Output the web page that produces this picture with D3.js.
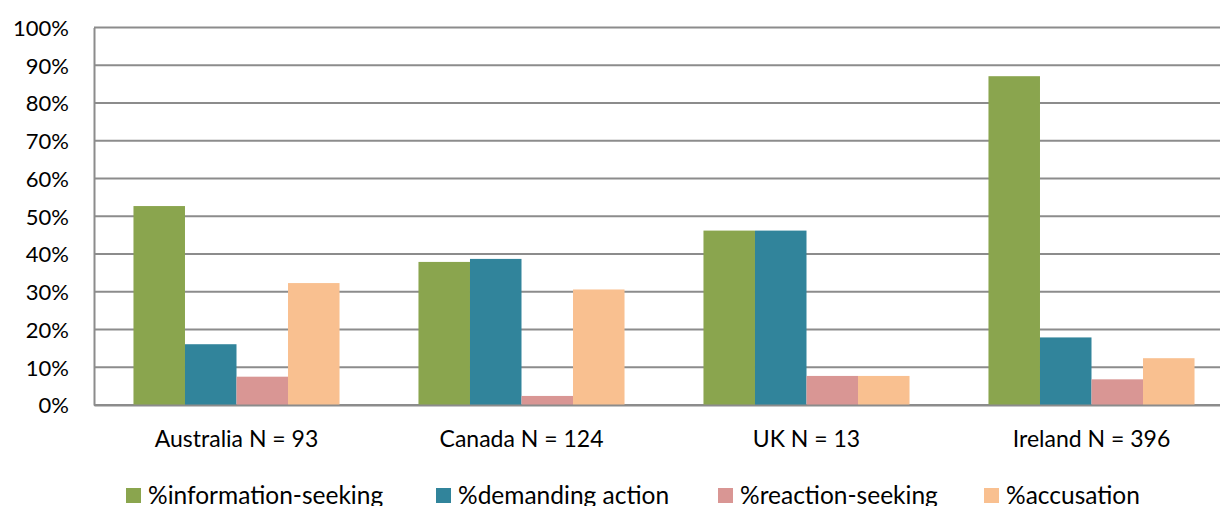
<!DOCTYPE html>
<html>
<head>
<meta charset="utf-8">
<script src="https://cdn.jsdelivr.net/npm/d3@7"></script>
<style>
  body { margin: 0; background: #fff; }
  text { font-family: Lato, "Open Sans", sans-serif; fill: #000; }
</style>
</head>
<body>
<script>
var width  = 1220;
var height = 506;

var categories = ['Australia N = 93', 'Canada N = 124', 'UK N = 13', 'Ireland N = 396'];
var seriesNames = ['%information-seeking', '%demanding action', '%reaction-seeking', '%accusation'];
var colors = ['#8aa54e', '#31849b', '#d99694', '#f9c090'];

var infoSeeking   = [52.7, 37.9, 46.2, 87.1];
var demanding     = [16.1, 38.7, 46.2, 17.9];
var reactionSeek  = [ 7.5,  2.4,  7.7,  6.8];
var accusation    = [32.3, 30.6,  7.7, 12.4];
var series = [infoSeeking, demanding, reactionSeek, accusation];

var yTicks = [0, 10, 20, 30, 40, 50, 60, 70, 80, 90, 100];

var plotLeft = 94, plotRight = 1234, plotTop = 27.5, plotBottom = 405;

var svg = d3.select('body')
            .append('svg')
            .attr('width', width)
            .attr('height', height);

var x = d3.scaleBand()
          .domain(categories)
          .range([plotLeft, plotRight])
          .paddingInner(0.277)
          .paddingOuter(0.1385);

var xs = d3.scaleBand()
           .domain(d3.range(seriesNames.length))
           .range([0, x.bandwidth()]);

var y = d3.scaleLinear()
          .domain([0, 100])
          .range([plotBottom, plotTop]);

// gridlines
svg.append('g')
   .selectAll('line')
   .data(yTicks)
   .enter()
   .append('line')
   .attr('x1', plotLeft)
   .attr('x2', plotRight)
   .attr('y1', function(d){ return y(d); })
   .attr('y2', function(d){ return y(d); })
   .attr('stroke', '#8c8c8c')
   .attr('stroke-width', 2);

// y axis
var yAxis = d3.axisLeft(y)
              .tickValues(yTicks)
              .tickSize(0)
              .tickPadding(25)
              .tickFormat(function(d){ return d + '%'; });

var gy = svg.append('g')
            .attr('transform', 'translate(' + plotLeft + ',0)')
            .call(yAxis);
gy.select('.domain').attr('stroke', '#8c8c8c').attr('stroke-width', 2);
gy.selectAll('text')
  .attr('font-size', '22px')
  .attr('dy', '0.36em')
  .attr('fill', '#000')
  .style('font-family', 'Lato, sans-serif');

// bars
var groups = svg.append('g')
                .selectAll('g')
                .data(categories)
                .enter()
                .append('g')
                .attr('transform', function(d){ return 'translate(' + x(d) + ',0)'; });

groups.selectAll('rect')
      .data(function(d, i){ return series.map(function(s, j){ return { s: j, v: s[i] }; }); })
      .enter()
      .append('rect')
      .attr('x', function(d){ return xs(d.s); })
      .attr('y', function(d){ return y(d.v); })
      .attr('width', xs.bandwidth())
      .attr('height', function(d){ return plotBottom - y(d.v); })
      .attr('fill', function(d){ return colors[d.s]; });

// x axis
var xAxis = d3.axisBottom(x).tickSize(0).tickPadding(26);
var gx = svg.append('g')
            .attr('transform', 'translate(0,' + plotBottom + ')')
            .call(xAxis);
gx.select('.domain').attr('stroke', '#8c8c8c').attr('stroke-width', 2);
gx.selectAll('text')
  .attr('font-size', '23px')
  .attr('fill', '#000')
  .style('font-family', 'Lato, sans-serif');

// legend
var legendX = [126, 436, 718, 984];
var legend = svg.append('g')
                .selectAll('g')
                .data(seriesNames)
                .enter()
                .append('g')
                .attr('transform', function(d, i){ return 'translate(' + legendX[i] + ',488)'; });

legend.append('rect')
      .attr('width', 15)
      .attr('height', 15)
      .attr('fill', function(d, i){ return colors[i]; });

legend.append('text')
      .attr('x', 22)
      .attr('y', 16)
      .attr('font-size', '24.5px')
      .text(function(d){ return d; });
</script>
</body>
</html>
